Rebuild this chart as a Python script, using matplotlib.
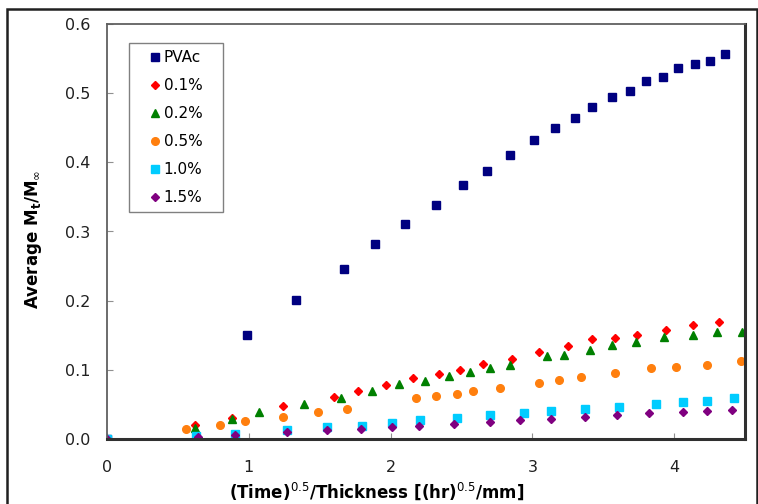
import matplotlib
matplotlib.use("Agg")
import matplotlib.pyplot as plt
from matplotlib.patches import Rectangle

plt.rcParams['font.family'] = ['DejaVu Sans']

# PVAc (neat film)
pvac_x = [0, 0.99, 1.33, 1.67, 1.89, 2.10, 2.32, 2.51, 2.68, 2.84, 3.01, 3.16, 3.30,
          3.42, 3.56, 3.69, 3.80, 3.92, 4.03, 4.15, 4.25, 4.36]
pvac_y = [0, 0.150, 0.201, 0.246, 0.282, 0.311, 0.338, 0.367, 0.387, 0.410, 0.432,
          0.450, 0.464, 0.480, 0.495, 0.503, 0.517, 0.523, 0.537, 0.542, 0.547, 0.556]

# 0.1 %
p01_x = [0, 0.62, 0.88, 1.24, 1.60, 1.77, 1.97, 2.16, 2.34, 2.49, 2.65, 2.86, 3.05,
         3.25, 3.42, 3.58, 3.74, 3.94, 4.13, 4.32]
p01_y = [0, 0.020, 0.030, 0.048, 0.061, 0.069, 0.078, 0.088, 0.094, 0.100, 0.108,
         0.116, 0.126, 0.134, 0.145, 0.146, 0.150, 0.158, 0.165, 0.169]

# 0.2 %
p02_x = [0, 0.62, 0.88, 1.07, 1.39, 1.65, 1.87, 2.06, 2.24, 2.41, 2.56, 2.70, 2.84,
         3.10, 3.22, 3.41, 3.56, 3.73, 3.93, 4.13, 4.30, 4.48]
p02_y = [0, 0.016, 0.029, 0.039, 0.051, 0.059, 0.069, 0.079, 0.084, 0.091, 0.097,
         0.103, 0.107, 0.120, 0.121, 0.129, 0.136, 0.140, 0.147, 0.150, 0.155, 0.155]

# 0.5 %
p05_x = [0, 0.56, 0.80, 0.97, 1.24, 1.49, 1.69, 2.18, 2.32, 2.47, 2.58, 2.77, 3.05,
         3.19, 3.34, 3.58, 3.84, 4.01, 4.23, 4.47]
p05_y = [0, 0.014, 0.020, 0.026, 0.032, 0.039, 0.043, 0.059, 0.062, 0.065, 0.069,
         0.074, 0.081, 0.085, 0.090, 0.095, 0.103, 0.104, 0.107, 0.113]

# 1.0 %
p10_x = [0, 0.63, 0.90, 1.27, 1.55, 1.80, 2.01, 2.21, 2.47, 2.70, 2.94, 3.13, 3.37,
         3.61, 3.87, 4.06, 4.23, 4.42]
p10_y = [0, 0.004, 0.007, 0.013, 0.017, 0.019, 0.023, 0.027, 0.030, 0.035, 0.038,
         0.040, 0.043, 0.046, 0.051, 0.053, 0.055, 0.059]

# 1.5 %
p15_x = [0, 0.64, 0.90, 1.27, 1.55, 1.79, 2.01, 2.20, 2.45, 2.70, 2.91, 3.13, 3.37,
         3.60, 3.82, 4.06, 4.23, 4.41]
p15_y = [0, 0.003, 0.006, 0.010, 0.013, 0.014, 0.017, 0.019, 0.022, 0.025, 0.027,
         0.029, 0.032, 0.035, 0.038, 0.039, 0.040, 0.042]

fig = plt.figure(figsize=(7.58, 5.04), dpi=100)
W, H = 758, 504
ax = fig.add_axes([107 / W, 1 - 439 / H, (745 - 107) / W, (439 - 24) / H])

# outer frame of the figure
fig.patches.append(Rectangle((7 / W, -0.05), (757 - 7) / W, 1.05 - 9 / H,
                             transform=fig.transFigure, fill=False,
                             edgecolor='#202020', linewidth=1.8))

ax.plot(pvac_x, pvac_y, 's', color='#000080', ms=5.2, label='PVAc')
ax.plot(p01_x, p01_y, 'D', color='#ff0000', ms=3.8, label='0.1%')
ax.plot(p02_x, p02_y, '^', color='#008000', ms=5.5, label='0.2%')
ax.plot(p05_x, p05_y, 'o', color='#ff7f0e', ms=5.5, label='0.5%')
ax.plot(p10_x, p10_y, 's', color='#00ccff', ms=5.2, label='1.0%')
ax.plot(p15_x, p15_y, 'D', color='#800080', ms=3.8, label='1.5%')

ax.set_xlim(0, 4.5)
ax.set_ylim(0, 0.6)
ax.set_xticks([0, 1, 2, 3, 4])
ax.set_yticks([0, 0.1, 0.2, 0.3, 0.4, 0.5, 0.6])
ax.set_yticklabels(['0.0', '0.1', '0.2', '0.3', '0.4', '0.5', '0.6'])
ax.tick_params(direction='in', length=4, color='#909090', labelsize=11.5,
               labelcolor='#202020')
ax.tick_params(axis='x', pad=15)
ax.tick_params(axis='y', pad=12)
for side in ['left', 'top']:
    ax.spines[side].set_color('#606060')
    ax.spines[side].set_linewidth(1.3)
for side in ['right', 'bottom']:
    ax.spines[side].set_color('#303030')
    ax.spines[side].set_linewidth(2.2)

ax.set_xlabel('(Time)$^{0.5}$/Thickness [(hr)$^{0.5}$/mm]', fontsize=12,
              fontweight='bold')
ax.xaxis.set_label_coords(0.423, -0.1)
ax.set_ylabel('Average M$_\\mathregular{t}$/M$_\\infty$', fontsize=12,
              fontweight='bold')
ax.yaxis.set_label_coords(-0.098, 0.48)

# legend box drawn separately so its padding matches the original
ax.add_patch(Rectangle((0.0345, 0.547), 0.1473, 0.407, transform=ax.transAxes,
                       fill=False, edgecolor='#808080', linewidth=1.0,
                       zorder=5, clip_on=False))
leg = ax.legend(loc='upper left', bbox_to_anchor=(0.0674, 0.937), fontsize=11,
                frameon=False, handlelength=0.6, handletextpad=0.3,
                labelspacing=0.85, borderpad=0, borderaxespad=0)

fig.savefig('out.png', dpi=100)
